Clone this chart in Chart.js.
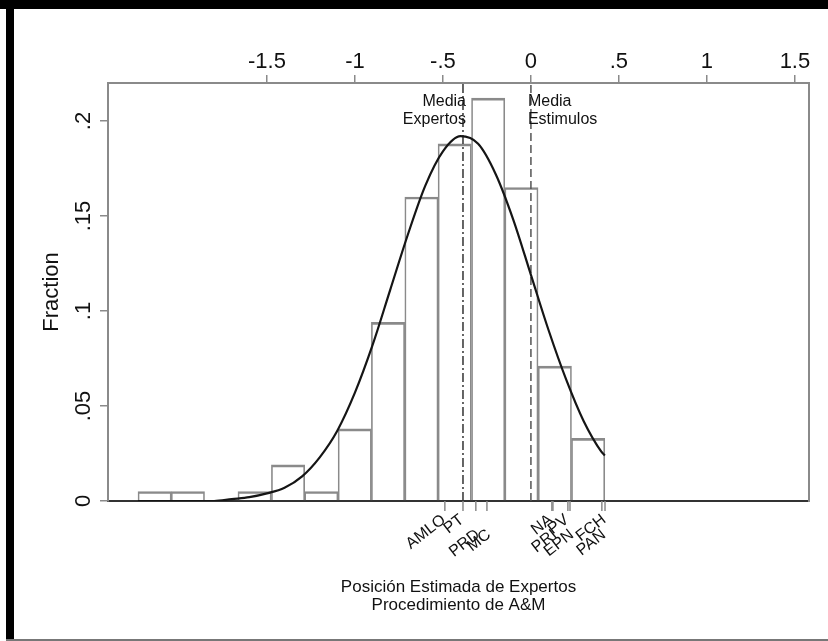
<!DOCTYPE html>
<html>
<head>
<meta charset="utf-8">
<title>Posición Estimada de Expertos</title>
<script src="https://cdn.jsdelivr.net/npm/chart.js@4.4.1/dist/chart.umd.min.js"></script>
<style>
  html, body { margin: 0; padding: 0; background: #fff; }
  #hist { display: block; }
</style>
</head>
<body>
<canvas id="hist" width="828" height="641"></canvas>
<script>
// histogram bins (centre of each bin) and the fraction in each
const binCenters = [-2.138, -1.949, -1.759, -1.570, -1.380, -1.191, -1.001, -0.812, -0.622, -0.433, -0.243, -0.054, 0.136, 0.325]
const binFractions = [0.005, 0.005, 0, 0.005, 0.019, 0.005, 0.038, 0.094, 0.160, 0.188, 0.212, 0.165, 0.071, 0.033]

// normal curve
const curveX = [-2.233, -2.1, -2.0, -1.9, -1.8, -1.7, -1.6, -1.5, -1.4, -1.3, -1.2, -1.1, -1.0, -0.9, -0.8, -0.7, -0.6, -0.5, -0.4, -0.3, -0.2, -0.1, 0.0, 0.1, 0.2, 0.3, 0.4, 0.42]
const curveY = [0, 0, 0, 0, 0, 0.001, 0.002, 0.004, 0.007, 0.013, 0.023, 0.037, 0.057, 0.082, 0.111, 0.140, 0.166, 0.184, 0.192, 0.188, 0.172, 0.148, 0.119, 0.090, 0.064, 0.042, 0.026, 0.024]

// means
const meanExpertos = -0.386
const meanEstimulos = 0
const meanExpertosLabel = ['Media', 'Expertos']
const meanEstimulosLabel = ['Media', 'Estimulos']

// stimuli positions (rug under the axis)
const rugNames = ['AMLO', 'PT', 'PRD', 'MC', 'NA', 'PRI', 'PV', 'EPN', 'FCH', 'PAN']
const rugValues = [-0.489, -0.386, -0.313, -0.250, 0.119, 0.125, 0.210, 0.222, 0.421, 0.403]
const rugRow = [0, 0, 1, 1, 0, 1, 0, 1, 0, 1]

// ticks
const xTickValues = [-1.5, -1, -0.5, 0, 0.5, 1, 1.5]
const xTickLabels = ['-1.5', '-1', '-.5', '0', '.5', '1', '1.5']
const yTickValues = [0, 0.05, 0.1, 0.15, 0.2]
const yTickLabels = ['0', '.05', '.1', '.15', '.2']

const xMin = -2.403
const xMax = 1.58
const yMax = 0.22

const yTitle = 'Fraction'
const xTitle = ['Posición Estimada de Expertos', 'Procedimiento de A&M']

const FONT = "'Liberation Sans', Arial, Helvetica, sans-serif"
const gray = '#8a8a8a'
const ink = '#111'

Chart.defaults.font.family = FONT

const framePlugin = {
  id: 'frame',
  beforeDraw(chart) {
    const c = chart.ctx
    c.save()
    c.fillStyle = '#fff'
    c.fillRect(0, 0, chart.width, chart.height)
    c.fillStyle = '#000'
    c.fillRect(0, 0, chart.width, 9)
    c.fillRect(6, 0, 8, chart.height)
    c.fillStyle = '#777'
    c.fillRect(6, chart.height - 2, chart.width, 2)
    c.restore()
  }
}

const notesPlugin = {
  id: 'notes',
  afterDraw(chart) {
    const c = chart.ctx
    const x = chart.scales.x
    const area = chart.chartArea
    c.save()
    c.fillStyle = ink
    c.font = '16px ' + FONT
    c.textBaseline = 'middle'

    let px = x.getPixelForValue(meanExpertos)
    c.textAlign = 'right'
    meanExpertosLabel.forEach((t, i) => c.fillText(t, px + 3, area.top + 19 + i * 18))

    px = x.getPixelForValue(meanEstimulos)
    c.textAlign = 'left'
    meanEstimulosLabel.forEach((t, i) => c.fillText(t, px - 3, area.top + 19 + i * 18))

    // rug ticks
    const y0 = area.bottom
    c.strokeStyle = gray
    c.lineWidth = 1.5
    rugValues.forEach(v => {
      const p = x.getPixelForValue(v)
      c.beginPath()
      c.moveTo(p, y0)
      c.lineTo(p, y0 + 10)
      c.stroke()
    })

    c.font = '16px ' + FONT
    c.textAlign = 'right'
    rugNames.forEach((name, i) => {
      const p = x.getPixelForValue(rugValues[i])
      c.save()
      if (rugRow[i]) c.translate(p + 2, y0 + 32)
      else c.translate(p - 1, y0 + 17)
      c.rotate(-38 * Math.PI / 180)
      c.fillText(name, 0, 0)
      c.restore()
    })
    c.restore()
  }
}

const ctx = document.getElementById('hist')

new Chart(ctx, {
  type: 'line',
  data: {
    datasets: [
      {
        type: 'line',
        data: curveX.map((v, i) => ({ x: v, y: curveY[i] })),
        borderColor: '#151515',
        borderWidth: 2.2,
        pointRadius: 0,
        cubicInterpolationMode: 'monotone',
        xAxisID: 'x',
        yAxisID: 'y',
        order: 0
      },
      {
        type: 'line',
        data: [{ x: meanExpertos, y: 0 }, { x: meanExpertos, y: yMax }],
        borderColor: '#333',
        borderWidth: 1.5,
        borderDash: [9, 3, 2, 3],
        pointRadius: 0,
        xAxisID: 'x',
        yAxisID: 'y',
        order: 1
      },
      {
        type: 'line',
        data: [{ x: meanEstimulos, y: 0 }, { x: meanEstimulos, y: yMax }],
        borderColor: '#555',
        borderWidth: 1.5,
        borderDash: [8, 4],
        pointRadius: 0,
        xAxisID: 'x',
        yAxisID: 'y',
        order: 1
      },
      {
        type: 'bar',
        data: binCenters.map((v, i) => ({ x: v, y: binFractions[i] })),
        backgroundColor: 'rgba(255,255,255,0)',
        borderColor: gray,
        borderWidth: { top: 2, left: 1, right: 1, bottom: 0 },
        barPercentage: 1,
        categoryPercentage: 1,
        xAxisID: 'x',
        yAxisID: 'y',
        order: 3
      }
    ]
  },
  options: {
    responsive: false,
    animation: false,
    devicePixelRatio: 1,
    events: [],
    layout: { padding: { left: 14, right: 19, top: 10, bottom: 0 } },
    plugins: {
      legend: { display: false },
      tooltip: { enabled: false }
    },
    scales: {
      x: {
        type: 'linear',
        position: 'top',
        min: xMin,
        max: xMax,
        offset: false,
        afterBuildTicks: s => { s.ticks = xTickValues.map(v => ({ value: v })) },
        afterFit: s => { s.height = 73 },
        ticks: {
          callback: (v, i) => xTickLabels[i],
          font: { size: 22 },
          color: ink,
          padding: 0,
          maxRotation: 0,
          autoSkip: false
        },
        grid: { drawOnChartArea: false, offset: false, tickLength: 8, color: gray, lineWidth: 1.5 },
        border: { color: gray, width: 2 }
      },
      x2: {
        type: 'linear',
        position: 'bottom',
        min: xMin,
        max: xMax,
        offset: false,
        afterFit: s => { s.height = 140 },
        ticks: { display: false },
        grid: { display: false, offset: false },
        border: { color: '#333', width: 2 },
        title: {
          display: true,
          text: xTitle,
          color: ink,
          font: { size: 17, lineHeight: '18px' },
          padding: { top: 0, bottom: 27 }
        }
      },
      y: {
        type: 'linear',
        position: 'left',
        min: 0,
        max: yMax,
        afterBuildTicks: s => { s.ticks = yTickValues.map(v => ({ value: v })) },
        afterFit: s => { s.width = 94 },
        ticks: {
          callback: (v, i) => yTickLabels[i],
          minRotation: 90,
          maxRotation: 90,
          crossAlign: 'center',
          padding: 1,
          font: { size: 22 },
          color: ink,
          autoSkip: false
        },
        grid: { drawOnChartArea: false, tickLength: 8, color: gray, lineWidth: 1.5 },
        border: { color: gray, width: 2 },
        title: {
          display: true,
          text: yTitle,
          color: ink,
          font: { size: 22 },
          padding: { top: 25, bottom: 0 }
        }
      },
      y2: {
        type: 'linear',
        position: 'right',
        min: 0,
        max: yMax,
        afterFit: s => { s.width = 0 },
        ticks: { display: false },
        grid: { display: false },
        border: { color: gray, width: 2 }
      }
    }
  },
  plugins: [framePlugin, notesPlugin]
})
</script>
</body>
</html>
